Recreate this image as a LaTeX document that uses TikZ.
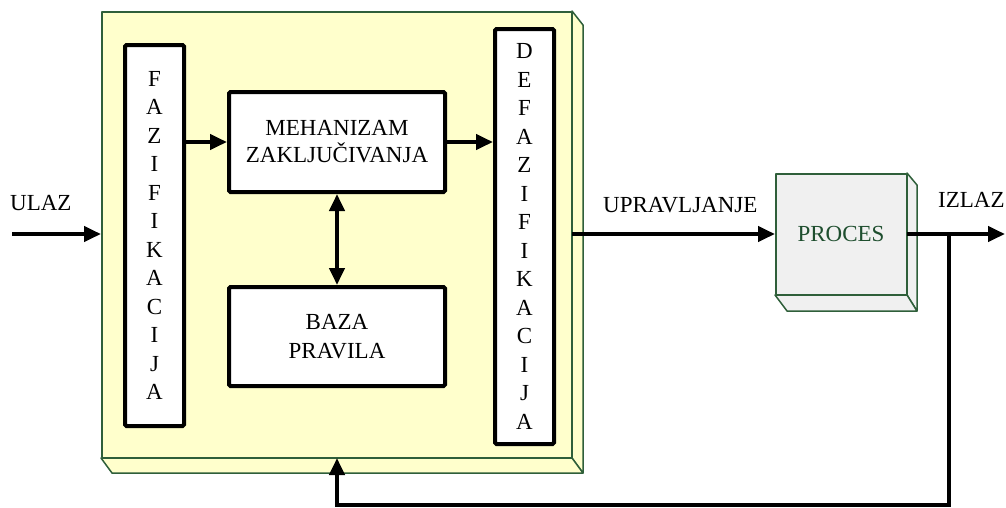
\documentclass[tikz,border=0pt]{standalone}
\usepackage{fontspec}
\setmainfont{Liberation Serif}
\usetikzlibrary{arrows.meta,calc}
\definecolor{ctrlyellow}{HTML}{FFFFCC}
\definecolor{edgegreen}{HTML}{2F5F3A}
\definecolor{procgray}{HTML}{F0F0F0}
\definecolor{proctext}{HTML}{1E4E2E}
\tikzset{
  blk/.style={draw=black, line width=4pt, fill=white, rounded corners=1.5pt, inner sep=0pt, align=center, font=\fontsize{23}{28.5}\selectfont},
  arr/.style={line width=4pt, -{Triangle[length=17pt,width=15pt]}},
  dbl/.style={line width=4pt, {Triangle[length=17pt,width=15pt]}-{Triangle[length=17pt,width=15pt]}},
  ctrlface/.style={draw=edgegreen, line width=1.5pt, fill=ctrlyellow, line join=round},
  procface/.style={draw=edgegreen, line width=1.5pt, fill=procgray, line join=round},
  lbl/.style={font=\fontsize{23}{27}\selectfont, inner sep=0pt, anchor=base west}
}
\begin{document}
\begin{tikzpicture}[x=1pt,y=-1pt]
\useasboundingbox (0,0) rectangle (1006,507);
% controller 3D box
\path[ctrlface] (572,11) -- (583,25) -- (583,473) -- (572,458) -- cycle;
\path[ctrlface] (101,458) -- (572,458) -- (583,473) -- (112,473) -- cycle;
\node[ctrlface, minimum width=469.5pt, minimum height=445.5pt, inner sep=0pt] (ctrl) at (336.5,234.5) {};
% process 3D box
\path[procface] (907,173) -- (917,185) -- (917,311) -- (907,295) -- cycle;
\path[procface] (775,295) -- (907,295) -- (917,311) -- (787,311) -- cycle;
\node[procface, minimum width=130.5pt, minimum height=120.5pt, inner sep=0pt, text=proctext, font=\fontsize{23}{27}\selectfont] (proces) at (841,234) {PROCES};
% inner blocks
\node[blk, minimum width=59pt, minimum height=381pt] (faz) at (154.5,235.5) {F\\A\\Z\\I\\F\\I\\K\\A\\C\\I\\J\\A};
\node[blk, minimum width=59pt, minimum height=415pt] (def) at (524.5,236.5) {D\\E\\F\\A\\Z\\I\\F\\I\\K\\A\\C\\I\\J\\A};
\node[blk, minimum width=216pt, minimum height=100pt, font=\fontsize{23}{27}\selectfont] (meh) at (337,142) {MEHANIZAM\\ZAKLJUČIVANJA};
\node[blk, minimum width=216pt, minimum height=99pt, font=\fontsize{23}{28.5}\selectfont] (baza) at (337,336.5) {BAZA\\PRAVILA};
% coordinates
\coordinate (ulaz) at (12,234);
\coordinate (izlaz) at (1005,234);
\coordinate (j) at (949,234);
\coordinate (fbr) at (949,505);
\coordinate (fbl) at (337,505);
% labels
\node[lbl] (lulaz) at (10,210) {ULAZ};
\node[lbl] (lupr) at (603,212) {UPRAVLJANJE};
\node[lbl] (lizlaz) at (938,207) {IZLAZ};
% connectors
\draw[arr] (ulaz) -- (ulaz -| ctrl.west);
\draw[arr] (faz.east |- meh.west) -- (meh.west);
\draw[arr] (meh.east) -- (meh.east -| def.west);
\draw[dbl] (meh.south) -- (baza.north);
\draw[arr] (ctrl.east |- proces.west) -- (proces.west);
\draw[arr] (proces.east) -- (izlaz);
\draw[arr] (j) -- (fbr) -- (fbl) -- (fbl |- ctrl.south);
\end{tikzpicture}
\end{document}
